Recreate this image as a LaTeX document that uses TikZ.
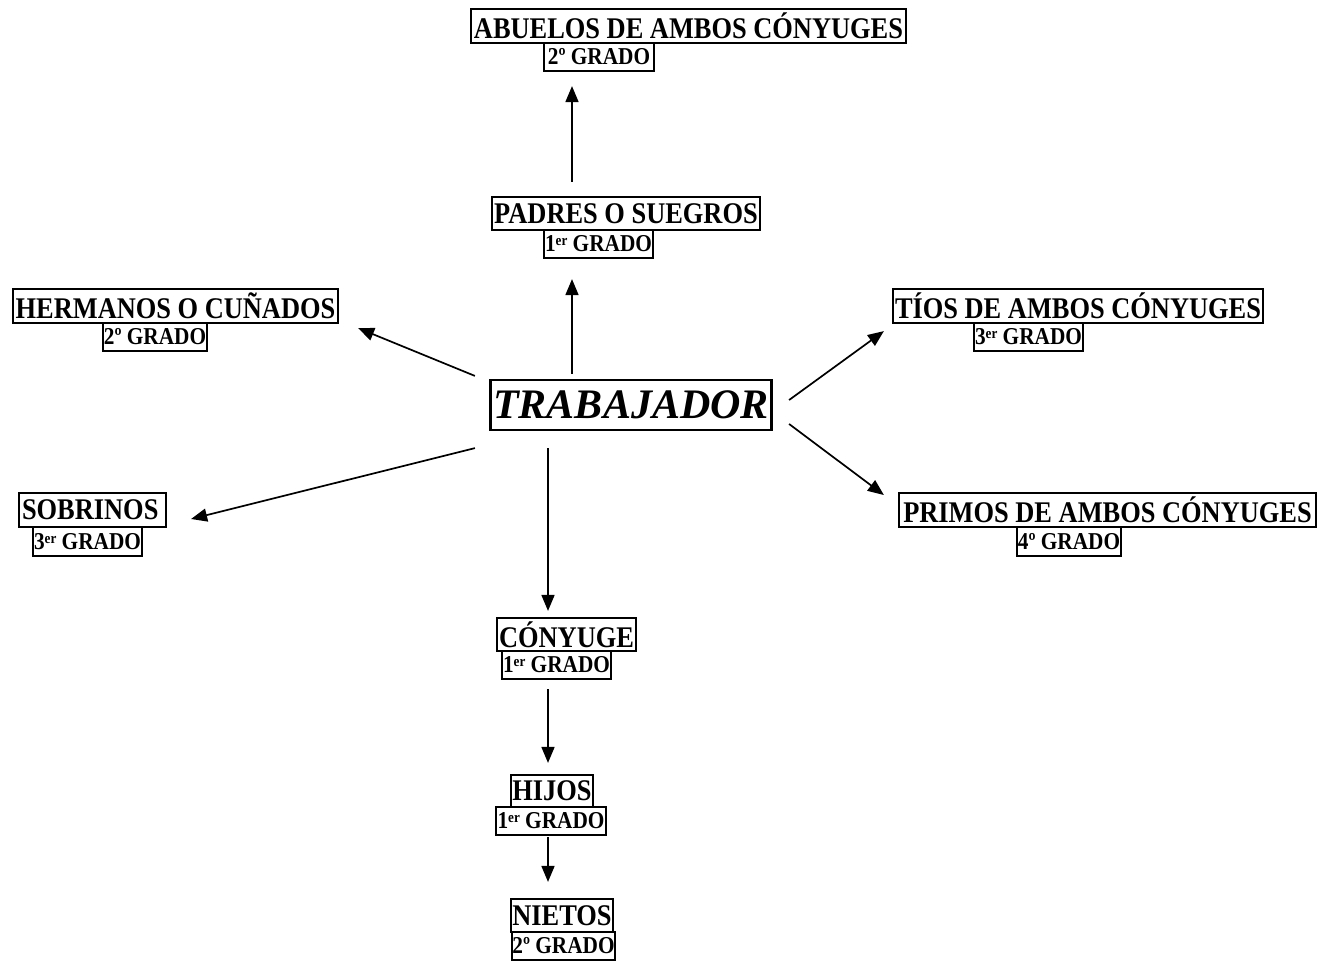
\documentclass[tikz,border=0pt]{standalone}
\usepackage{fontspec}
\setmainfont{Liberation Serif}
\newfontfamily\lblfont{Liberation Serif Bold}[FakeStretch=0.88]
\newfontfamily\bigfont{Liberation Serif Bold Italic}
\newcommand{\ersup}{\raisebox{6pt}{\fontsize{15}{15}\selectfont er}}
\usetikzlibrary{arrows.meta,calc}
\tikzset{
  box/.style={draw=black, line width=2.2pt, inner sep=0pt, align=center},
  mainbox/.style={box, font=\lblfont\fontsize{30}{32}\selectfont},
  subbox/.style={box, font=\lblfont\fontsize{24.2}{26}\selectfont},
  bigbox/.style={box, font=\bigfont\fontsize{42}{46}\selectfont},
  arr/.style={line width=1.7pt, -{Triangle[length=16pt,width=13pt]}}
}
\begin{document}
\begin{tikzpicture}[x=1pt,y=-1pt]
\useasboundingbox (0,0) rectangle (1320,962);
% nodes
\node[mainbox, minimum width=435pt, minimum height=34pt] (abu) at (688.5,26) {ABUELOS DE AMBOS CÓNYUGES};
\node[subbox, minimum width=110pt, minimum height=28pt] (abu2) at (599,57) {2º GRADO};
\node[mainbox, minimum width=268pt, minimum height=33pt] (pad) at (626,213.5) {PADRES O SUEGROS};
\node[subbox, minimum width=109pt, minimum height=28pt] (pad2) at (598.5,244) {1\ersup\ GRADO};
\node[mainbox, minimum width=325pt, minimum height=34pt] (her) at (175.5,306) {HERMANOS O CUÑADOS};
\node[subbox, minimum width=104pt, minimum height=28pt] (her2) at (155,337) {2º GRADO};
\node[mainbox, minimum width=370pt, minimum height=34pt] (tio) at (1078,306) {TÍOS DE AMBOS CÓNYUGES};
\node[subbox, minimum width=109pt, minimum height=28pt] (tio2) at (1028.5,337) {3\ersup\ GRADO};
\node[bigbox, minimum width=281pt, minimum height=50pt] (trab) at (631,405) {TRABAJADOR};
\node[mainbox, minimum width=417pt, minimum height=34pt] (pri) at (1107.5,510) {PRIMOS DE AMBOS CÓNYUGES};
\node[subbox, minimum width=104pt, minimum height=29pt] (pri2) at (1069,541.5) {4º GRADO};
\node[mainbox, minimum width=147pt, minimum height=34pt, text width=141pt, align=left] (sob) at (92.5,510) {SOBRINOS};
\node[subbox, minimum width=109pt, minimum height=29pt] (sob2) at (87.5,541.5) {3\ersup\ GRADO};
\node[mainbox, minimum width=139pt, minimum height=33pt] (con) at (566.5,634.5) {CÓNYUGE};
\node[subbox, minimum width=109pt, minimum height=28pt] (con2) at (556.5,665) {1\ersup\ GRADO};
\node[mainbox, minimum width=82pt, minimum height=32pt] (hij) at (552,791) {HIJOS};
\node[subbox, minimum width=110pt, minimum height=28pt] (hij2) at (551,821) {1\ersup\ GRADO};
\node[mainbox, minimum width=102pt, minimum height=33pt] (nie) at (562,915.5) {NIETOS};
\node[subbox, minimum width=103pt, minimum height=28pt] (nie2) at (563.5,946) {2º GRADO};
% connectors
\draw[arr] ([xshift=-54pt,yshift=14pt]pad.north) -- ([xshift=-27pt,yshift=-14pt]abu2.south);
\draw[arr] ([xshift=-59pt,yshift=5pt]trab.north) -- ([xshift=-26.5pt,yshift=-20pt]pad2.south);
\draw[arr] ([xshift=-14.5pt,yshift=3pt]trab.north west) -- ([xshift=19pt,yshift=-4pt]her.south east);
\draw[arr] ([xshift=16.5pt,yshift=5pt]trab.east) -- ([xshift=-8pt,yshift=-7pt]tio.south west);
\draw[arr] ([xshift=16.5pt,yshift=-19pt]trab.east) -- ([xshift=-14pt,yshift=15pt]pri.west);
\draw[arr] ([xshift=-14.5pt,yshift=-17pt]trab.south west) -- ([xshift=24pt,yshift=-9pt]sob.east);
\draw[arr] ([xshift=-83pt,yshift=-17pt]trab.south) -- ([xshift=-18.5pt,yshift=6pt]con.north);
\draw[arr] ([xshift=-8.5pt,yshift=-9pt]con2.south) -- ([xshift=-4pt,yshift=11pt]hij.north);
\draw[arr] ([xshift=-3pt,yshift=-1pt]hij2.south) -- ([xshift=-14pt,yshift=16pt]nie.north);
\end{tikzpicture}
\end{document}
